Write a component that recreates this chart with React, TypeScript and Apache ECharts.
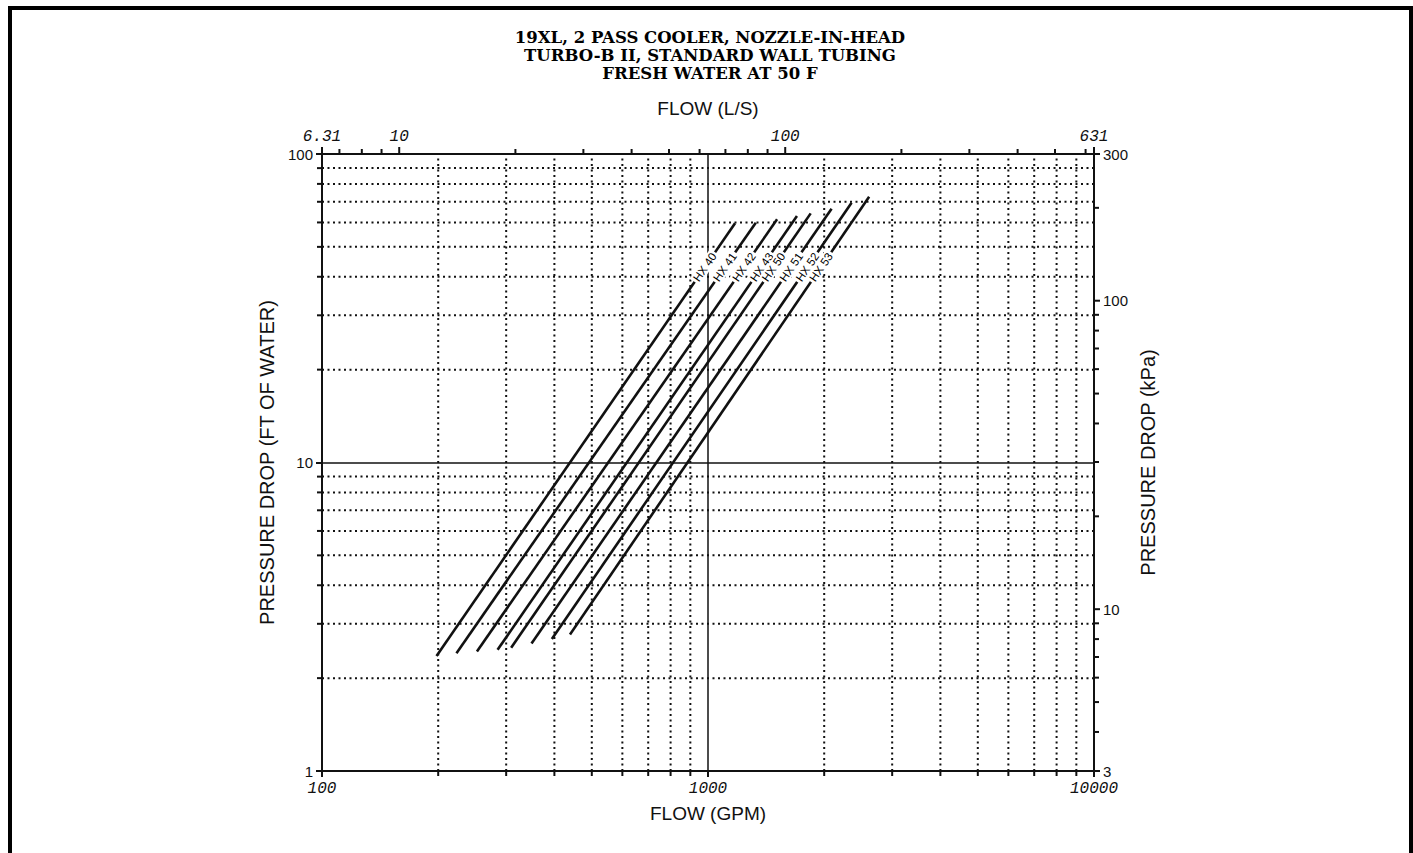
import React, { useEffect, useRef } from 'react';
import * as echarts from 'echarts';

// ---------------- data ----------------
const titleLines = [
  '19XL, 2 PASS COOLER, NOZZLE-IN-HEAD',
  'TURBO-B II, STANDARD WALL TUBING',
  'FRESH WATER AT 50 F',
];

const seriesNames = ['HX 40', 'HX 41', 'HX 42', 'HX 43', 'HX 50', 'HX 51', 'HX 52', 'HX 53'];
const startFlowGpm = [198, 223, 252, 285, 309, 349, 394, 439];
const startDropFt = [2.36, 2.41, 2.44, 2.47, 2.51, 2.59, 2.68, 2.77];
const endFlowGpm = [1175, 1330, 1510, 1700, 1845, 2090, 2355, 2615];
const endDropFt = [59.6, 59.9, 61.4, 63.0, 64.2, 66.5, 69.5, 72.7];

const gpmMinor = [200, 300, 400, 500, 600, 700, 800, 900, 2000, 3000, 4000, 5000, 6000, 7000, 8000, 9000];
const ftMinor = [2, 3, 4, 5, 6, 7, 8, 9, 20, 30, 40, 50, 60, 70, 80, 90];
const lpsMinor = [7, 8, 9, 20, 30, 40, 50, 60, 70, 80, 90, 200, 300, 400, 500, 600];
const lpsLabelValues = [6.309, 10, 100, 630.9];
const lpsLabelTexts = ['6.31', '10', '100', '631'];
const kpaMinor = [4, 5, 6, 7, 8, 9, 20, 30, 40, 50, 60, 70, 80, 90, 200];
const kpaLabelValues = [2.989, 10, 100, 298.9];
const kpaLabelTexts = ['3', '10', '100', '300'];

const GPM_MIN = 100;
const GPM_MAX = 10000;
const FT_MIN = 1;
const FT_MAX = 100;
const LPS_MIN = 6.309;
const LPS_MAX = 630.9;
const KPA_MIN = 2.989;
const KPA_MAX = 298.9;
const LABEL_FT = 43;

const INK = '#111';
const SANS = "'Liberation Sans', Arial, sans-serif";
const MONO = "'Liberation Mono', 'DejaVu Sans Mono', monospace";

export default function App() {
  const ref = useRef<HTMLDivElement>(null);

  useEffect(() => {
    if (!ref.current) return;
    const chart = echarts.init(ref.current, undefined, { renderer: 'svg' });

    const lineEl = (x1: number, y1: number, x2: number, y2: number, w: number, dash?: number[]) => ({
      type: 'line',
      shape: { x1, y1, x2, y2 },
      style: { stroke: INK, lineWidth: w, lineDash: dash },
    });

    const hxSeries = seriesNames.map((name, i) => ({
      type: 'line',
      name,
      xAxisIndex: 0,
      yAxisIndex: 0,
      data: [
        [startFlowGpm[i], startDropFt[i]],
        [endFlowGpm[i], endDropFt[i]],
      ],
      symbol: 'none',
      lineStyle: { color: INK, width: 2.6 },
      z: 5,
      silent: true,
    }));

    const option: any = {
      animation: false,
      backgroundColor: '#fff',
      grid: { left: 322, top: 154, width: 772, height: 617 },
      xAxis: [
        {
          type: 'log',
          logBase: 10,
          min: GPM_MIN,
          max: GPM_MAX,
          position: 'bottom',
          name: 'FLOW (GPM)',
          nameLocation: 'middle',
          nameGap: 33,
          nameTextStyle: { fontFamily: SANS, fontSize: 19, color: INK },
          axisLine: { show: true, onZero: false, lineStyle: { color: INK, width: 2 } },
          axisTick: { show: true, length: 6, lineStyle: { color: INK, width: 2 } },
          axisLabel: {
            fontFamily: MONO,
            fontStyle: 'italic',
            fontSize: 16,
            color: INK,
            margin: 10,
            formatter: (v: number) => String(Math.round(v)),
          },
          splitLine: { show: true, lineStyle: { color: INK, width: 1.5 } },
        },
        {
          type: 'log',
          logBase: 10,
          min: LPS_MIN,
          max: LPS_MAX,
          position: 'top',
          name: 'FLOW (L/S)',
          nameLocation: 'middle',
          nameGap: 36,
          nameTextStyle: { fontFamily: SANS, fontSize: 19, color: INK },
          axisLine: { show: true, onZero: false, lineStyle: { color: INK, width: 2 } },
          axisTick: { show: false },
          axisLabel: { show: false },
          splitLine: { show: false },
        },
      ],
      yAxis: [
        {
          type: 'log',
          logBase: 10,
          min: FT_MIN,
          max: FT_MAX,
          position: 'left',
          name: 'PRESSURE DROP (FT OF WATER)',
          nameLocation: 'middle',
          nameGap: 42,
          nameRotate: 90,
          nameTextStyle: { fontFamily: SANS, fontSize: 20, color: INK },
          axisLine: { show: true, onZero: false, lineStyle: { color: INK, width: 2 } },
          axisTick: { show: true, length: 6, lineStyle: { color: INK, width: 2 } },
          axisLabel: {
            fontFamily: SANS,
            fontSize: 15,
            color: INK,
            margin: 9,
            formatter: (v: number) => String(Math.round(v)),
          },
          splitLine: { show: true, lineStyle: { color: INK, width: 1.5 } },
        },
        {
          type: 'log',
          logBase: 10,
          min: KPA_MIN,
          max: KPA_MAX,
          position: 'right',
          name: 'PRESSURE DROP (kPa)',
          nameLocation: 'middle',
          nameGap: 44,
          nameRotate: 90,
          nameTextStyle: { fontFamily: SANS, fontSize: 20, color: INK },
          axisLine: { show: true, onZero: false, lineStyle: { color: INK, width: 2 } },
          axisTick: { show: false },
          axisLabel: { show: false },
          splitLine: { show: false },
        },
      ],
      graphic: [
        { type: 'rect', shape: { x: 8, y: 6, width: 4, height: 860 }, style: { fill: '#000' }, silent: true },
        { type: 'rect', shape: { x: 8, y: 6, width: 1405, height: 4 }, style: { fill: '#000' }, silent: true },
        { type: 'rect', shape: { x: 1409, y: 6, width: 4, height: 860 }, style: { fill: '#000' }, silent: true },
        ...titleLines.map((t, i) => ({
          type: 'text',
          x: 710,
          y: 37 + i * 18,
          style: {
            text: t,
            fill: '#000',
            fontFamily: 'DejaVu Serif',
            fontWeight: 'bold',
            fontSize: 16.5,
            textAlign: 'center',
            textVerticalAlign: 'middle',
          },
          silent: true,
        })),
      ],
      series: [
        // vertical dotted grid lines
        {
          type: 'custom',
          xAxisIndex: 0,
          yAxisIndex: 0,
          silent: true,
          z: 1,
          data: gpmMinor.map((v) => [v, FT_MIN]),
          renderItem: (params: any, api: any) => {
            const a = api.coord([api.value(0), FT_MIN]);
            const b = api.coord([api.value(0), FT_MAX]);
            return {
              type: 'group',
              children: [
                lineEl(a[0], a[1], b[0], b[1], 2, [2, 3.5]),
                lineEl(a[0], a[1], a[0], a[1] + 5, 2),
              ],
            };
          },
        },
        // horizontal dotted grid lines
        {
          type: 'custom',
          xAxisIndex: 0,
          yAxisIndex: 0,
          silent: true,
          z: 1,
          data: ftMinor.map((v) => [GPM_MIN, v]),
          renderItem: (params: any, api: any) => {
            const a = api.coord([GPM_MIN, api.value(1)]);
            const b = api.coord([GPM_MAX, api.value(1)]);
            return {
              type: 'group',
              children: [
                lineEl(a[0], a[1], b[0], b[1], 2, [2, 3.5]),
                lineEl(a[0] - 5, a[1], a[0], a[1], 2),
              ],
            };
          },
        },
        // top axis (L/S) minor ticks
        {
          type: 'custom',
          xAxisIndex: 1,
          yAxisIndex: 1,
          silent: true,
          z: 3,
          data: lpsMinor.map((v) => [v, KPA_MAX]),
          renderItem: (params: any, api: any) => {
            const a = api.coord([api.value(0), KPA_MAX]);
            return lineEl(a[0], a[1] - 5, a[0], a[1], 2);
          },
        },
        // top axis (L/S) labels
        {
          type: 'custom',
          xAxisIndex: 1,
          yAxisIndex: 1,
          silent: true,
          z: 3,
          data: lpsLabelValues.map((v) => [v, KPA_MAX]),
          renderItem: (params: any, api: any) => {
            const a = api.coord([api.value(0), KPA_MAX]);
            return {
              type: 'group',
              children: [
                lineEl(a[0], a[1] - 7, a[0], a[1], 2),
                {
                  type: 'text',
                  x: a[0],
                  y: a[1] - 9,
                  style: {
                    text: lpsLabelTexts[params.dataIndex],
                    fill: INK,
                    fontFamily: MONO,
                    fontStyle: 'italic',
                    fontSize: 16,
                    textAlign: 'center',
                    textVerticalAlign: 'bottom',
                  },
                },
              ],
            };
          },
        },
        // right axis (kPa) minor ticks
        {
          type: 'custom',
          xAxisIndex: 1,
          yAxisIndex: 1,
          silent: true,
          z: 3,
          data: kpaMinor.map((v) => [LPS_MAX, v]),
          renderItem: (params: any, api: any) => {
            const a = api.coord([LPS_MAX, api.value(1)]);
            return lineEl(a[0], a[1], a[0] + 5, a[1], 2);
          },
        },
        // right axis (kPa) labels
        {
          type: 'custom',
          xAxisIndex: 1,
          yAxisIndex: 1,
          silent: true,
          z: 3,
          data: kpaLabelValues.map((v) => [LPS_MAX, v]),
          renderItem: (params: any, api: any) => {
            const a = api.coord([LPS_MAX, api.value(1)]);
            return {
              type: 'group',
              children: [
                lineEl(a[0], a[1], a[0] + 6, a[1], 2),
                {
                  type: 'text',
                  x: a[0] + 9,
                  y: a[1],
                  style: {
                    text: kpaLabelTexts[params.dataIndex],
                    fill: INK,
                    fontFamily: SANS,
                    fontSize: 15,
                    textAlign: 'left',
                    textVerticalAlign: 'middle',
                  },
                },
              ],
            };
          },
        },
        ...hxSeries,
        // HX labels placed on each line
        {
          type: 'custom',
          xAxisIndex: 0,
          yAxisIndex: 0,
          silent: true,
          z: 6,
          encode: { x: [0, 2], y: [1, 3] },
          data: seriesNames.map((n, i) => [startFlowGpm[i], startDropFt[i], endFlowGpm[i], endDropFt[i]]),
          renderItem: (params: any, api: any) => {
            const p0 = api.coord([api.value(0), api.value(1)]);
            const p1 = api.coord([api.value(2), api.value(3)]);
            const ly = api.coord([GPM_MIN, LABEL_FT])[1];
            const t = (p0[1] - ly) / (p0[1] - p1[1]);
            const lx = p0[0] + t * (p1[0] - p0[0]);
            const ang = Math.atan2(p0[1] - p1[1], p1[0] - p0[0]);
            return {
              type: 'text',
              x: lx,
              y: ly,
              rotation: ang,
              style: {
                text: seriesNames[params.dataIndex],
                fill: '#000',
                fontFamily: SANS,
                fontSize: 11.5,
                textAlign: 'center',
                textVerticalAlign: 'middle',
                backgroundColor: '#fff',
                padding: [0, 2],
              },
            };
          },
        },
      ],
    };

    chart.setOption(option);
    return () => chart.dispose();
  }, []);

  return (
    <div
      ref={ref}
      style={{ position: 'fixed', left: 0, top: 0, width: 1413, height: 853, background: '#fff' }}
    />
  );
}
